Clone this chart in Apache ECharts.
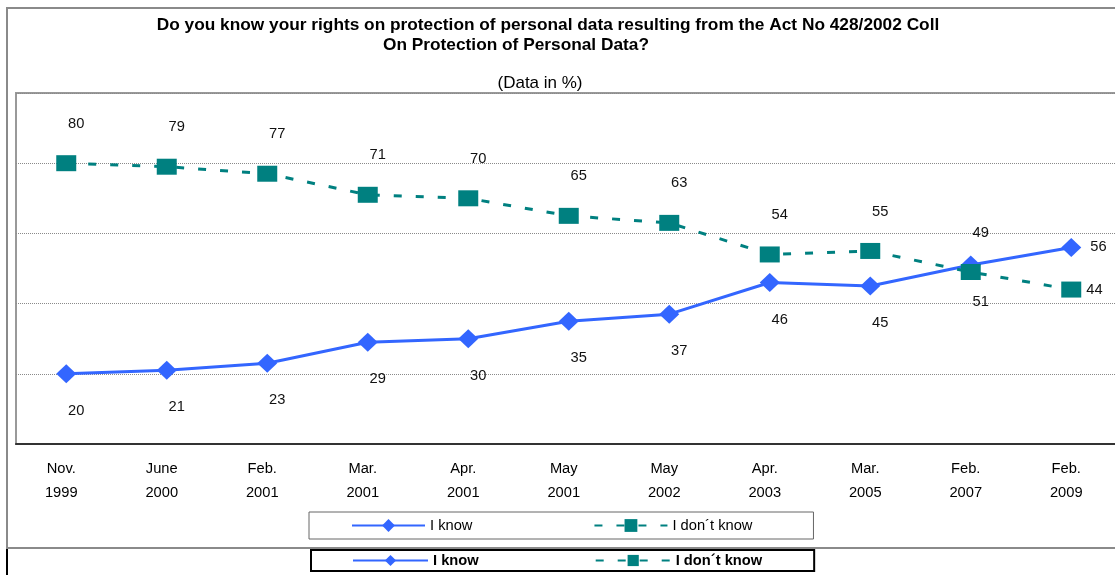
<!DOCTYPE html>
<html>
<head>
<meta charset="utf-8">
<script src="https://cdn.jsdelivr.net/npm/echarts@6/dist/echarts.min.js"></script>
<style>
  html, body { margin: 0; padding: 0; background: #fff; }
  #rights-chart { width: 1115px; height: 575px; }
</style>
</head>
<body>
<div id="rights-chart"></div>
<script>
// survey waves (x axis)
var categories = ['Nov.\n1999', 'June\n2000', 'Feb.\n2001', 'Mar.\n2001', 'Apr.\n2001', 'May\n2001',
                  'May\n2002', 'Apr.\n2003', 'Mar.\n2005', 'Feb.\n2007', 'Feb.\n2009'];
// answers in %
var iKnow     = [20, 21, 23, 29, 30, 35, 37, 46, 45, 51, 56];
var iDontKnow = [80, 79, 77, 71, 70, 65, 63, 54, 55, 49, 44];
// y axis range (labels hidden in the original)
var yMin = 0, yMax = 100, yStep = 20;

var FONT = 'Arial, "Liberation Sans", sans-serif';
var BLUE = '#3366ff';
var TEAL = '#008080';

// last point of each series gets its label on the right
function withLastLabelRight(values, dist) {
  return values.map(function (v, i) {
    if (i !== values.length - 1) return v;
    return { value: v, label: { position: 'right', distance: dist, offset: [0, 0] } };
  });
}

var myChart = echarts.init(document.getElementById('rights-chart'));
myChart.setOption({
  animation: false,
  backgroundColor: '#fff',
  graphic: [
    { type: 'rect', silent: true, z: -1,
      shape: { x: 7, y: 8, width: 1120, height: 540 },
      style: { fill: '#fff', stroke: '#8a8a8a', lineWidth: 2 } },
    { type: 'line', silent: true,
      shape: { x1: 7, y1: 549, x2: 7, y2: 575 },
      style: { stroke: '#000', lineWidth: 2 } },
    { type: 'text', silent: true, x: 548, y: 25,
      style: { text: 'Do you know your rights on protection of personal data resulting from the Act No 428/2002 Coll',
               font: 'bold 17.3px ' + FONT, fill: '#000', align: 'center', verticalAlign: 'middle' } },
    { type: 'text', silent: true, x: 383, y: 45,
      style: { text: 'On Protection of Personal Data?',
               font: 'bold 17.3px ' + FONT, fill: '#000', align: 'left', verticalAlign: 'middle' } },
    { type: 'text', silent: true, x: 540, y: 83,
      style: { text: '(Data in %)', font: '17px ' + FONT, fill: '#000',
               align: 'center', verticalAlign: 'middle' } }
  ],
  legend: [
    {
      data: ['I know', 'I don\u00b4t know'],
      left: 309, top: 512,
      padding: [6, 61, 6, 42],
      itemWidth: 73, itemHeight: 16, itemGap: 121,
      borderColor: '#666', borderWidth: 1,
      textStyle: { fontFamily: FONT, fontSize: 14.7, color: '#000' }
    },
    {
      data: ['I know', 'I don\u00b4t know'],
      left: 311, top: 550,
      padding: [3, 52, 3, 41],
      itemWidth: 75, itemHeight: 14, itemGap: 116,
      borderColor: '#000', borderWidth: 2,
      textStyle: { fontFamily: FONT, fontSize: 14.7, fontWeight: 'bold', color: '#000' }
    }
  ],
  grid: {
    left: 16, top: 93, width: 1105.5, height: 351,
    outerBoundsMode: 'none',
    show: true, borderColor: '#999', borderWidth: 2,
    containLabel: false
  },
  xAxis: {
    type: 'category',
    data: categories,
    boundaryGap: true,
    axisLine: { lineStyle: { color: '#333', width: 2 } },
    axisTick: { length: 5, lineStyle: { color: '#333', width: 1 } },
    axisLabel: {
      margin: 13, lineHeight: 24, color: '#000',
      fontFamily: FONT, fontSize: 14.7, padding: [0, 10, 0, 0]
    }
  },
  yAxis: {
    type: 'value',
    min: yMin, max: yMax, interval: yStep,
    axisLine: { show: false },
    axisTick: { show: false },
    axisLabel: { show: false },
    splitLine: { lineStyle: { color: '#8a8a8a', type: 'dotted', width: 1 } }
  },
  series: [
    {
      name: 'I know',
      type: 'line',
      data: withLastLabelRight(iKnow, 9),
      symbol: 'diamond',
      symbolSize: [20, 19],
      itemStyle: { color: BLUE },
      lineStyle: { color: BLUE, width: 3 },
      label: {
        show: true, position: 'bottom', distance: 20, offset: [10, 0],
        color: '#111', fontFamily: FONT, fontSize: 14.7
      }
    },
    {
      name: 'I don\u00b4t know',
      type: 'line',
      data: withLastLabelRight(iDontKnow, 5),
      symbol: 'rect',
      symbolSize: [20, 16],
      itemStyle: { color: TEAL },
      lineStyle: { color: TEAL, width: 3, type: [8, 14] },
      label: {
        show: true, position: 'top', distance: 24, offset: [10, 0],
        color: '#111', fontFamily: FONT, fontSize: 14.7
      }
    }
  ]
});
</script>
</body>
</html>
